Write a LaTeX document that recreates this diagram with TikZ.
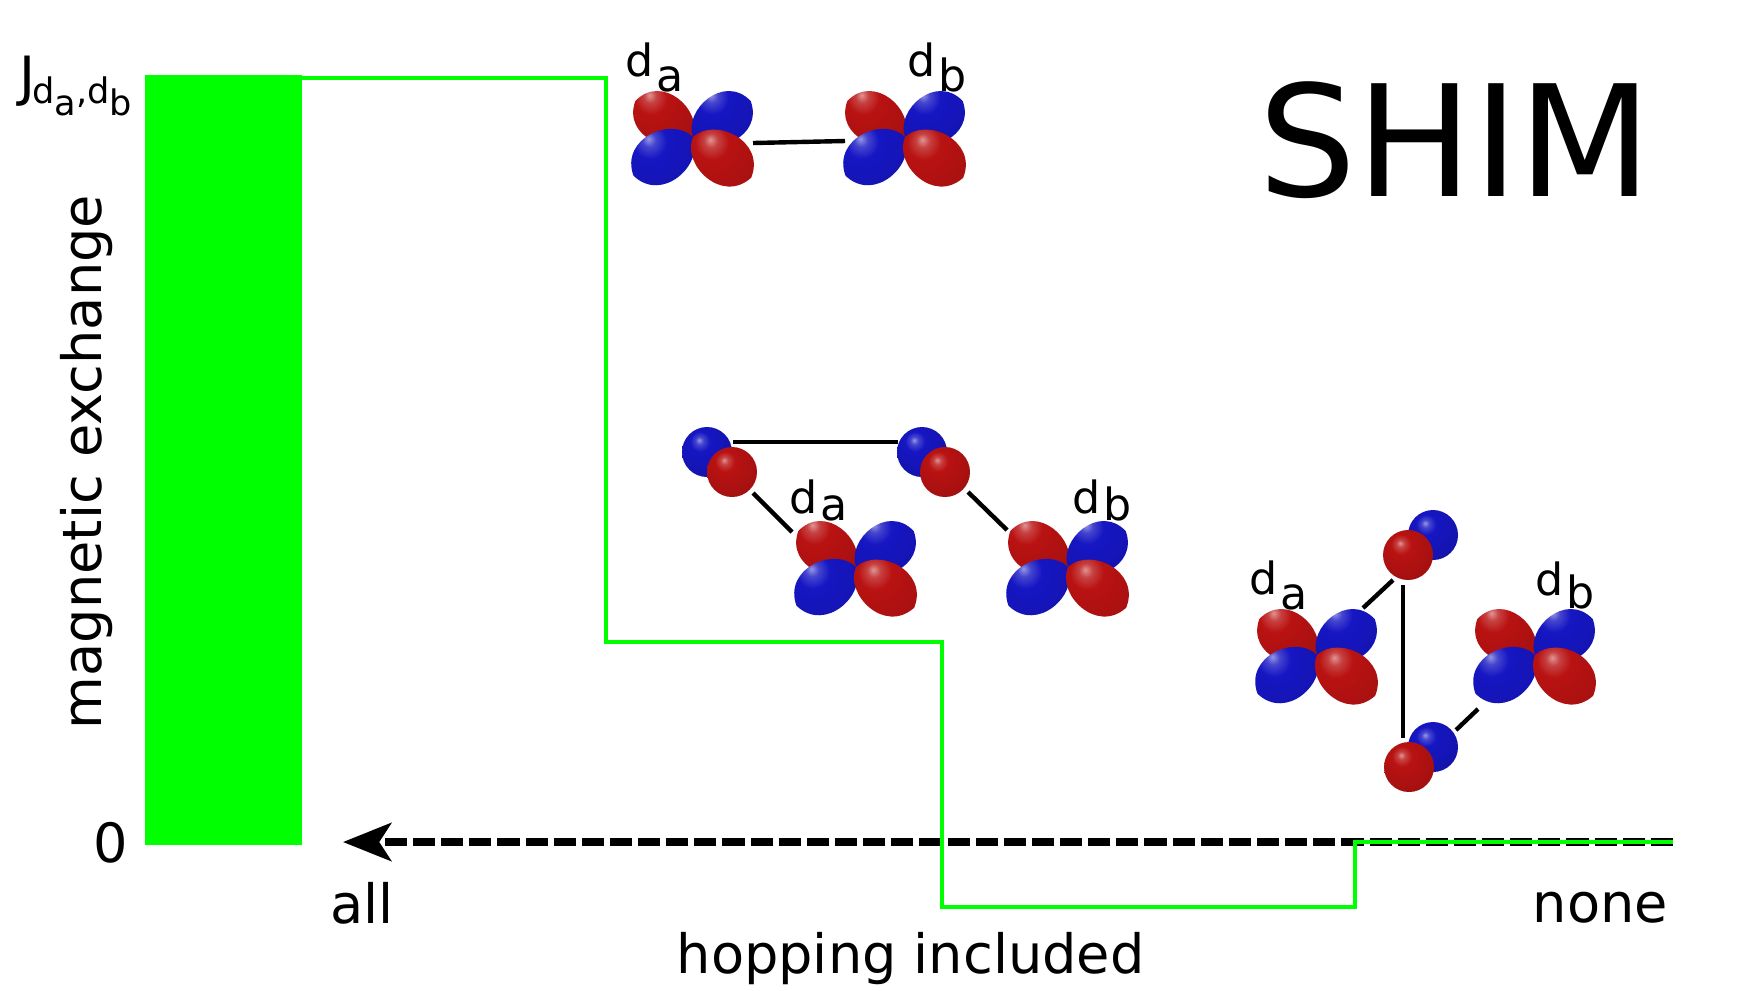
\documentclass[tikz,border=0pt]{standalone}
\usepackage{fontspec}
\setmainfont{DejaVu Sans}
\usetikzlibrary{arrows.meta}
\definecolor{lred}{RGB}{185,18,18}
\definecolor{lblue}{RGB}{22,22,195}
\definecolor{stepgreen}{RGB}{0,255,0}
\pgfdeclareradialshading{redlobe}{\pgfpoint{-8bp}{12bp}}{color(0bp)=(lred!45!white); color(4bp)=(lred!80!white); color(10bp)=(lred); color(30bp)=(lred!90!black); color(50bp)=(lred!65!black); color(80bp)=(lred!65!black)}
\pgfdeclareradialshading{bluelobe}{\pgfpoint{-8bp}{12bp}}{color(0bp)=(lblue!45!white); color(4bp)=(lblue!80!white); color(10bp)=(lblue); color(30bp)=(lblue!90!black); color(50bp)=(lblue!65!black); color(80bp)=(lblue!65!black)}
\newcommand{\dlab}[2]{d\kern0.8pt\raisebox{#2}{#1}}
\begin{document}
\begin{tikzpicture}[x=0.01cm,y=-0.01cm,
  lbl/.style={inner sep=0pt, font=\fontsize{15.4}{18}\selectfont},
  olbl/.style={inner sep=0pt, anchor=base west, font=\fontsize{12.6}{14}\selectfont},
  bond/.style={line width=1.25pt, black},
  stepline/.style={stepgreen, line width=1.2pt},
  axisline/.style={black, line width=2.3pt, dash pattern=on 6.3pt off 1.7pt,
    -{Stealth[length=13.7pt, width=10.8pt, inset=3.4pt]}},
  rlobe/.style={shading=redlobe},
  blobe/.style={shading=bluelobe},
  pics/dorb/.style={code={
    \shade[rlobe, rotate=148] (0,0) .. controls (6,-28) and (60,-38) .. (68,0) .. controls (60,38) and (6,28) .. (0,0);
    \shade[blobe, rotate=32] (0,0) .. controls (6,-28) and (60,-38) .. (68,0) .. controls (60,38) and (6,28) .. (0,0);
    \shade[blobe, rotate=213] (0,0) .. controls (6,-29) and (62,-39) .. (71,0) .. controls (62,39) and (6,29) .. (0,0);
    \shade[rlobe, rotate=-35] (0,0) .. controls (6,-29) and (62,-39) .. (71,0) .. controls (62,39) and (6,29) .. (0,0);
  }}
]
\useasboundingbox (0,0) rectangle (1737,990);
\fill[white] (0,0) rectangle (1737,990);

% green bar
\fill[stepgreen] (145,75) rectangle (302,845);

% axis
\coordinate (axR) at (1673,842);
\coordinate (axL) at (343,842);
\draw[axisline] (axR) -- (axL);

% green step line
\coordinate (s0) at (300,78);
\coordinate (s1) at (606,78);
\coordinate (s2) at (606,642);
\coordinate (s3) at (942,642);
\coordinate (s4) at (942,907);
\coordinate (s5) at (1355,907);
\coordinate (s6) at (1355,842);
\coordinate (s7) at (1673,842);
\draw[stepline] (s0) -- (s1) -- (s2) -- (s3) -- (s4) -- (s5) -- (s6) -- (s7);

% labels
\node[lbl, anchor=base west] (jlab) at (19,95) {J\kern-1pt\raisebox{-2.3pt}{\fontsize{10}{11}\selectfont d\raisebox{-3.4pt}{a},d\raisebox{-3.4pt}{b}}};
\node[lbl, anchor=base west] (zero) at (93,862) {0};
\node[lbl, anchor=base, rotate=90] (ylab) at (101,462) {magnetic exchange};
\node[lbl, anchor=base west] (all) at (330,923) {all};
\node[lbl, anchor=base west] (none) at (1532,922) {none};
\node[lbl, anchor=base west] (xlab) at (676,973) {hopping included};
\node[inner sep=0pt, anchor=base west, font=\fontsize{44}{50}\selectfont] (shim) at (1258,196) {SHIM};

% ---- group 1 ----
\coordinate (g1a) at (753,143);
\coordinate (g1b) at (845,141);
\draw[bond] (g1a) -- (g1b);
\pic at (693,137) {dorb};
\pic at (905,137) {dorb};
\node[olbl] (g1la) at (625,76) {\dlab{a}{-4.3pt}};
\node[olbl] (g1lb) at (907,76) {\dlab{b}{-4.3pt}};

% ---- group 2 ----
\coordinate (g2p1) at (733,442);
\coordinate (g2p2) at (898,442);
\coordinate (g2a1) at (753,493);
\coordinate (g2a2) at (792,532);
\coordinate (g2b1) at (968,492);
\coordinate (g2b2) at (1007,530);
\draw[bond] (g2p1) -- (g2p2);
\draw[bond] (g2a1) -- (g2a2);
\draw[bond] (g2b1) -- (g2b2);
\shade[blobe] (707,452) circle [radius=25];
\shade[rlobe] (732,472) circle [radius=25];
\shade[blobe] (922,452) circle [radius=25];
\shade[rlobe] (945,472) circle [radius=25];
\pic at (856,567) {dorb};
\pic at (1068,567) {dorb};
\node[olbl] (g2la) at (789,513) {\dlab{a}{-2.2pt}};
\node[olbl] (g2lb) at (1072,513) {\dlab{b}{-2.2pt}};

% ---- group 3 ----
\coordinate (g3a1) at (1363,608);
\coordinate (g3a2) at (1393,580);
\coordinate (g3v1) at (1403,585);
\coordinate (g3v2) at (1403,738);
\coordinate (g3b1) at (1478,709);
\coordinate (g3b2) at (1456,730);
\draw[bond] (g3a1) -- (g3a2);
\draw[bond] (g3v1) -- (g3v2);
\draw[bond] (g3b1) -- (g3b2);
\shade[blobe] (1433,535) circle [radius=25];
\shade[rlobe] (1408,555) circle [radius=25];
\shade[blobe] (1433,747) circle [radius=25];
\shade[rlobe] (1409,767) circle [radius=25];
\pic at (1317,655) {dorb};
\pic at (1535,655) {dorb};
\node[olbl] (g3la) at (1249,594) {\dlab{a}{-4.3pt}};
\node[olbl] (g3lb) at (1535,595) {\dlab{b}{-3.8pt}};
\end{tikzpicture}
\end{document}
